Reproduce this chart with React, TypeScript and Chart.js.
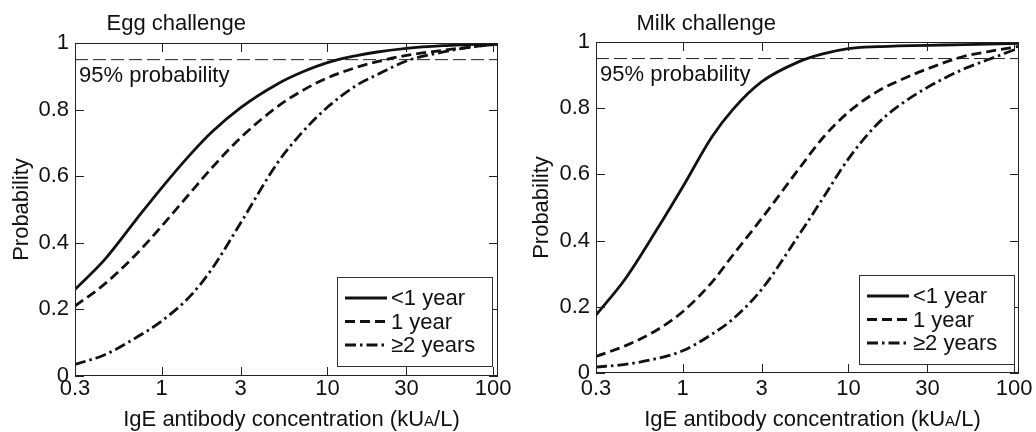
import React, { useEffect, useRef } from "react";
import { Chart, registerables } from "chart.js";

Chart.register(...registerables);

const FONT = '"Liberation Sans", Arial, Helvetica, sans-serif';

// ---- data ----
const concentrations = [0.3, 0.45, 0.7, 1, 1.5, 2, 3, 5, 7, 10, 15, 20, 30, 50, 70, 107];
const xTicks = [0.3, 1, 3, 10, 30, 100];
const yTicks = [0, 0.2, 0.4, 0.6, 0.8, 1];
const xMin = 0.3;
const xMax = 107;
const probThreshold = 0.95;
const thresholdLabel = "95% probability";
const seriesLabels = ["<1 year", "1 year", "\u22652 years"];
const panelTitles = ["Egg challenge", "Milk challenge"];
const yAxisTitle = "Probability";
const xAxisTitleMain = "IgE antibody concentration (kU";
const xAxisTitleSub = "A";
const xAxisTitleEnd = "/L)";

const eggUnder1 = [0.26, 0.348, 0.469, 0.565, 0.667, 0.732, 0.806, 0.877, 0.912, 0.941, 0.962, 0.973, 0.984, 0.992, 0.995, 0.998];
const eggOneYear = [0.21, 0.275, 0.365, 0.45, 0.552, 0.624, 0.716, 0.809, 0.856, 0.895, 0.927, 0.944, 0.963, 0.978, 0.987, 0.997];
const eggTwoPlus = [0.035, 0.063, 0.115, 0.165, 0.242, 0.32, 0.46, 0.64, 0.73, 0.807, 0.873, 0.905, 0.946, 0.973, 0.986, 0.997];

const milkUnder1 = [0.175, 0.284, 0.434, 0.562, 0.713, 0.795, 0.88, 0.94, 0.964, 0.98, 0.986, 0.988, 0.99, 0.992, 0.994, 0.996];
const milkOneYear = [0.05, 0.082, 0.13, 0.185, 0.274, 0.355, 0.467, 0.615, 0.71, 0.788, 0.851, 0.882, 0.919, 0.957, 0.971, 0.987];
const milkTwoPlus = [0.018, 0.026, 0.044, 0.067, 0.117, 0.162, 0.253, 0.415, 0.527, 0.647, 0.753, 0.806, 0.863, 0.919, 0.947, 0.982];

const lineDashes = [[], [10, 5], [11, 4, 2.5, 4]];

type PanelCfg = {
  title: string;
  series: number[][];
  titleX: number;
  padTop: number;
  padRight: number;
  yAxisWidth: number;
  xAxisHeight: number;
  yTitlePad: number;
  xTickPad: number;
  legendRightInset: number;
  legendBottomInset: number;
};

const panels: PanelCfg[] = [
  {
    title: panelTitles[0],
    series: [eggUnder1, eggOneYear, eggTwoPlus],
    titleX: 106.5,
    padTop: 43,
    padRight: 20,
    yAxisWidth: 75,
    xAxisHeight: 56,
    yTitlePad: 9,
    xTickPad: 0,
    legendRightInset: 6,
    legendBottomInset: 10,
  },
  {
    title: panelTitles[1],
    series: [milkUnder1, milkOneYear, milkTwoPlus],
    titleX: 118.5,
    padTop: 42,
    padRight: 17,
    yAxisWidth: 78,
    xAxisHeight: 59,
    yTitlePad: 11,
    xTickPad: 3,
    legendRightInset: 5,
    legendBottomInset: 9,
  },
];

const toPoints = (ys: number[]) => concentrations.map((x, i) => ({ x, y: ys[i] }));

function makeDecor(cfg: PanelCfg) {
  return {
    id: "decor",
    afterDraw(chart: any) {
      const ctx = chart.ctx as CanvasRenderingContext2D;
      const { left, right, top, bottom } = chart.chartArea;
      const xs = chart.scales.x;
      const ys = chart.scales.y;
      ctx.save();
      // frame
      ctx.strokeStyle = "#222";
      ctx.lineWidth = 1;
      ctx.setLineDash([]);
      ctx.strokeRect(Math.round(left) + 0.5, Math.round(top) + 0.5, Math.round(right - left) - 1, Math.round(bottom - top) - 1);
      // inward ticks on all sides
      const TL = 9;
      ctx.beginPath();
      xTicks.forEach((v) => {
        const px = Math.round(xs.getPixelForValue(v)) + 0.5;
        ctx.moveTo(px, bottom);
        ctx.lineTo(px, bottom - TL);
        ctx.moveTo(px, top);
        ctx.lineTo(px, top + TL);
      });
      yTicks.forEach((v) => {
        const py = Math.round(ys.getPixelForValue(v)) + 0.5;
        ctx.moveTo(left, py);
        ctx.lineTo(left + TL, py);
        ctx.moveTo(right, py);
        ctx.lineTo(right - TL, py);
      });
      ctx.stroke();

      ctx.fillStyle = "#111";
      ctx.textAlign = "left";
      ctx.textBaseline = "alphabetic";
      ctx.font = `22px ${FONT}`;
      // panel title
      ctx.fillText(cfg.title, cfg.titleX, 30);
      // threshold label
      const y95 = ys.getPixelForValue(probThreshold);
      ctx.fillText(thresholdLabel, left + 4, y95 + 22);

      // legend
      const boxW = 155;
      const boxH = 89;
      const bx = right - cfg.legendRightInset - boxW;
      const by = bottom - cfg.legendBottomInset - boxH;
      ctx.fillStyle = "#fff";
      ctx.fillRect(bx, by, boxW, boxH);
      ctx.strokeStyle = "#333";
      ctx.lineWidth = 1;
      ctx.strokeRect(Math.round(bx) + 0.5, Math.round(by) + 0.5, boxW, boxH);
      chart.data.datasets.slice(0, 3).forEach((ds: any, i: number) => {
        const rowY = by + 21 + i * 23.5;
        ctx.strokeStyle = "#111";
        ctx.lineWidth = ds.borderWidth;
        ctx.setLineDash(ds.borderDash || []);
        ctx.beginPath();
        ctx.moveTo(bx + 8, rowY);
        ctx.lineTo(bx + 50, rowY);
        ctx.stroke();
        ctx.setLineDash([]);
        ctx.fillStyle = "#111";
        ctx.font = `22px ${FONT}`;
        ctx.fillText(ds.label, bx + 54, rowY + 7);
      });

      // x axis title with small "A"
      const bigFont = `22px ${FONT}`;
      const smallFont = `15px ${FONT}`;
      ctx.font = bigFont;
      const w1 = ctx.measureText(xAxisTitleMain).width;
      const w3 = ctx.measureText(xAxisTitleEnd).width;
      ctx.font = smallFont;
      const w2 = ctx.measureText(xAxisTitleSub).width;
      const total = w1 + w2 + w3;
      let tx = (left + right) / 2 + 5 - total / 2;
      const ty = 426;
      ctx.fillStyle = "#111";
      ctx.font = bigFont;
      ctx.fillText(xAxisTitleMain, tx, ty);
      tx += w1;
      ctx.font = smallFont;
      ctx.fillText(xAxisTitleSub, tx, ty);
      tx += w2;
      ctx.font = bigFont;
      ctx.fillText(xAxisTitleEnd, tx, ty);
      ctx.restore();
    },
  };
}

function Panel({ cfg }: { cfg: PanelCfg }) {
  const ref = useRef<HTMLCanvasElement | null>(null);
  useEffect(() => {
    if (!ref.current) return;
    const datasets: any[] = cfg.series.map((s, i) => ({
      label: seriesLabels[i],
      data: toPoints(s),
      borderColor: "#111",
      borderWidth: 2.8,
      borderDash: lineDashes[i],
      pointRadius: 0,
      fill: false,
      cubicInterpolationMode: "monotone",
    }));
    datasets.push({
      label: thresholdLabel,
      data: [
        { x: xMin, y: probThreshold },
        { x: xMax, y: probThreshold },
      ],
      borderColor: "#222",
      borderWidth: 1,
      borderDash: [13, 5],
      pointRadius: 0,
      fill: false,
    });
    const chart = new Chart(ref.current, {
      type: "line",
      data: { datasets },
      options: {
        animation: false,
        responsive: false,
        maintainAspectRatio: false,
        layout: { padding: { left: 0, right: cfg.padRight, top: cfg.padTop, bottom: 0 } },
        plugins: {
          legend: { display: false },
          tooltip: { enabled: false },
          title: { display: false },
        },
        scales: {
          x: {
            type: "logarithmic",
            min: xMin,
            max: xMax,
            grid: { display: false, drawTicks: false },
            border: { display: false },
            ticks: {
              color: "#111",
              font: { size: 22, family: FONT },
              padding: cfg.xTickPad,
              maxRotation: 0,
              autoSkip: false,
              callback: (v: any) => String(v),
            },
            afterBuildTicks: (scale: any) => {
              scale.ticks = xTicks.map((v) => ({ value: v }));
            },
            afterFit: (scale: any) => {
              scale.height = cfg.xAxisHeight;
            },
          },
          y: {
            type: "linear",
            min: 0,
            max: 1,
            grid: { display: false, drawTicks: false },
            border: { display: false },
            ticks: {
              color: "#111",
              font: { size: 22, family: FONT },
              padding: 6,
              callback: (v: any) => {
                const n = Number(v);
                if (Math.abs(n) < 1e-9) return "0";
                if (Math.abs(n - 1) < 1e-9) return "1";
                return n.toFixed(1);
              },
            },
            afterBuildTicks: (scale: any) => {
              scale.ticks = yTicks.map((v) => ({ value: v }));
            },
            afterFit: (scale: any) => {
              scale.width = cfg.yAxisWidth;
            },
            title: {
              display: true,
              text: yAxisTitle,
              color: "#111",
              font: { size: 22, family: FONT },
              padding: { top: cfg.yTitlePad, bottom: 0 },
            },
          },
        },
      } as any,
      plugins: [makeDecor(cfg)],
    });
    return () => chart.destroy();
  }, [cfg]);
  return <canvas ref={ref} width={518} height={432} style={{ display: "block", width: 518, height: 432 }} />;
}

export default function App() {
  return (
    <div
      style={{
        position: "absolute",
        left: 0,
        top: 0,
        width: 1036,
        height: 432,
        background: "#fff",
        display: "flex",
        flexDirection: "row",
      }}
    >
      <Panel cfg={panels[0]} />
      <Panel cfg={panels[1]} />
    </div>
  );
}
